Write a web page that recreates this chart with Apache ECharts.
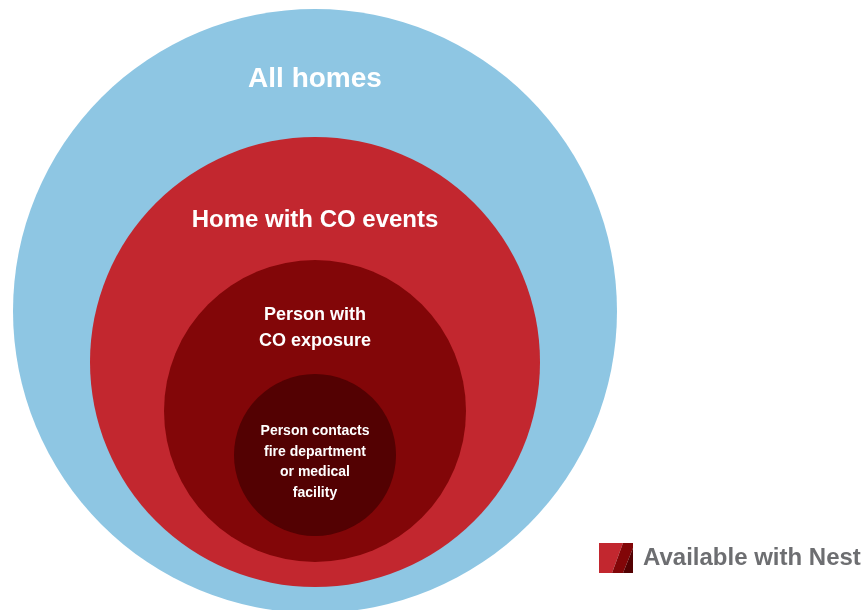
<!DOCTYPE html>
<html>
<head>
<meta charset="utf-8">
<title>CO events</title>
<script src="https://cdn.jsdelivr.net/npm/echarts@6/dist/echarts.min.js"></script>
<style>
  html, body { margin: 0; padding: 0; background: #fff; }
  #chart { width: 866px; height: 610px; }
</style>
</head>
<body>
<div id="chart"></div>
<script>
// nested groups, outer to inner
var levels = ['All homes', 'Home with CO events', 'Person with\nCO exposure', 'Person contacts\nfire department\nor medical\nfacility']
var centerX = [315, 315, 315, 315]
var centerY = [311, 362, 411, 455]
var radius = [302, 225, 151, 81]
var legendName = 'Available with Nest'

var colors = ['#8ec6e3', '#c2272f', '#820608', '#530102']
// label look per level: font size, line height, distance of text centre from circle top
var labelStyle = [
  { size: 28, lh: 32, dy: 70 },
  { size: 24, lh: 28, dy: 83 },
  { size: 18, lh: 26, dy: 68 },
  { size: 14, lh: 20.7, dy: 88 }
]

var chart = echarts.init(document.getElementById('chart'))

chart.setOption({
  animation: false,
  grid: { left: 0, right: 0, top: 0, bottom: 0 },
  xAxis: { type: 'value', min: 0, max: 866, show: false },
  yAxis: { type: 'value', min: 0, max: 610, inverse: true, show: false },
  series: [{
    type: 'custom',
    clip: false,
    data: levels.map(function (name, i) {
      return { name: name, value: [centerX[i], centerY[i], radius[i], i] }
    }),
    renderItem: function (params, api) {
      var i = api.value(3)
      var c = api.coord([api.value(0), api.value(1)])
      var r = api.size([api.value(2), api.value(2)])[0]
      var ls = labelStyle[i]
      return {
        type: 'group',
        children: [{
          type: 'circle',
          shape: { cx: c[0], cy: c[1], r: r },
          style: { fill: colors[i] }
        }, {
          type: 'text',
          style: {
            text: levels[i],
            x: c[0],
            y: c[1] - r + ls.dy,
            fill: '#ffffff',
            fontFamily: 'Liberation Sans',
            fontWeight: 'bold',
            fontSize: ls.size,
            lineHeight: ls.lh,
            align: 'center',
            verticalAlign: 'middle'
          }
        }]
      }
    }
  }],
  graphic: [{
    type: 'group',
    left: 599,
    top: 543,
    children: [{
      type: 'polygon',
      shape: { points: [[0, 0], [24, 0], [13, 30], [0, 30]] },
      style: { fill: colors[1] }
    }, {
      type: 'polygon',
      shape: { points: [[24, 0], [34, 0], [34, 5], [24, 30], [13, 30]] },
      style: { fill: colors[2] }
    }, {
      type: 'polygon',
      shape: { points: [[34, 5], [34, 30], [24, 30]] },
      style: { fill: colors[3] }
    }, {
      type: 'text',
      x: 44,
      y: 15,
      style: {
        text: legendName,
        fill: '#6d6e71',
        fontFamily: 'Liberation Sans',
        fontWeight: 'bold',
        fontSize: 24,
        verticalAlign: 'middle'
      }
    }]
  }]
})
</script>
</body>
</html>
